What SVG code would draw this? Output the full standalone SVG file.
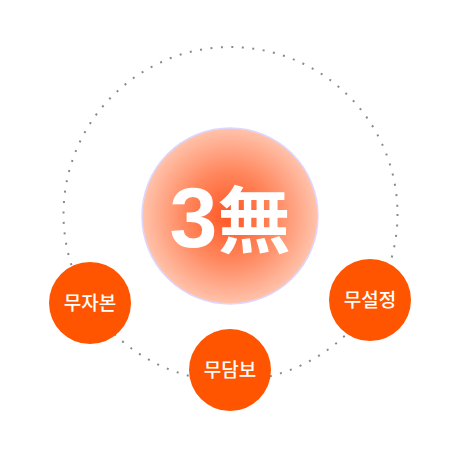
<svg xmlns="http://www.w3.org/2000/svg" width="461" height="462" viewBox="0 0 461 462">
<defs>
<radialGradient id="g" cx="50%" cy="50%" r="50%">
<stop offset="0" stop-color="#ff5522"/>
<stop offset="0.5" stop-color="#ff865c"/>
<stop offset="1" stop-color="#ffc3ac"/>
</radialGradient>
<style>
.dot{fill:none;stroke:#8a8a8a;stroke-width:2;stroke-dasharray:2 8.5}
.sm{fill:#ff5500}
.lb{font-family:"Noto Sans CJK KR","Noto Sans",sans-serif;font-size:19px;font-weight:500;fill:#fff;text-anchor:middle}
</style>
</defs>
<g id="connectors">
<circle class="dot" cx="230.5" cy="214" r="167"/>
</g>
<g id="center">
<circle cx="230" cy="216" r="88" fill="url(#g)" stroke="#ddd6ff" stroke-width="1.5"/>
<text x="230" y="247" text-anchor="middle" fill="#fff" font-weight="bold"><tspan font-family="Liberation Sans,sans-serif" font-size="86">3</tspan><tspan font-family="Noto Sans CJK KR,sans-serif" font-size="73">無</tspan></text>
</g>
<g id="n1">
<circle class="sm" cx="90" cy="303" r="41"/>
<text class="lb" x="90" y="310">무자본</text>
</g>
<g id="n2">
<circle class="sm" cx="230" cy="370" r="41"/>
<text class="lb" x="230" y="377">무담보</text>
</g>
<g id="n3">
<circle class="sm" cx="370" cy="300" r="41"/>
<text class="lb" x="370" y="307">무설정</text>
</g>
</svg>
